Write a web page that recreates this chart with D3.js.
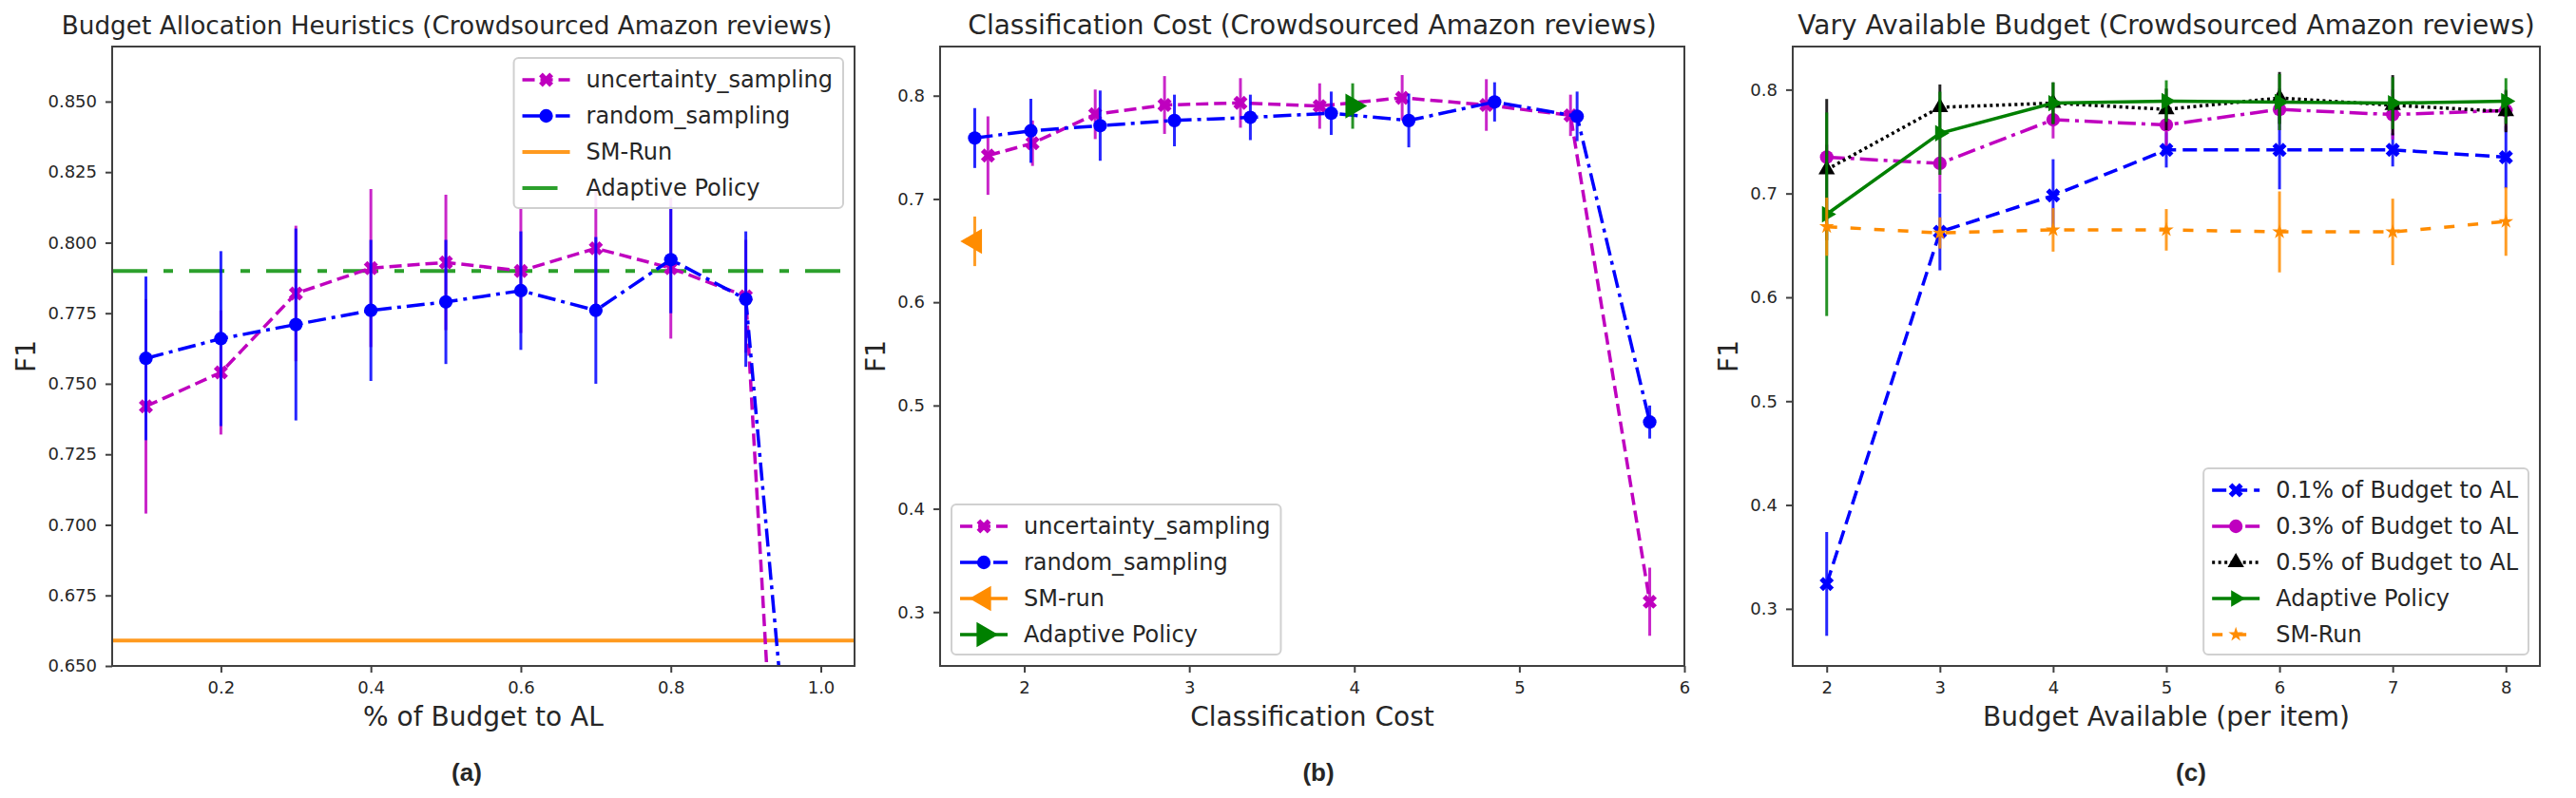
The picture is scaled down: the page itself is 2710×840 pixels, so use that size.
<!DOCTYPE html>
<html>
<head>
<meta charset="utf-8">
<script src="https://cdn.jsdelivr.net/npm/d3@7/dist/d3.min.js"></script>
<style>
  body { margin: 0; background: #fff; }
  text { font-family: "DejaVu Sans", sans-serif; fill: #262626; }
</style>
</head>
<body>
<script>
// ---- data ----
// (a) share of budget given to active learning, (b) same runs plotted against cost
var alShare = [0.1, 0.2, 0.3, 0.4, 0.5, 0.6, 0.7, 0.8, 0.9, 1.0];
var uncertaintyF1 = [0.742, 0.754, 0.782, 0.791, 0.793, 0.790, 0.798, 0.791, 0.781, 0.310];
var uncertaintyErr = [0.038, 0.022, 0.024, 0.028, 0.024, 0.022, 0.022, 0.025, 0.020, 0.033];
var randomF1 = [0.759, 0.766, 0.771, 0.776, 0.779, 0.783, 0.776, 0.794, 0.780, 0.484];
var randomErr = [0.029, 0.031, 0.034, 0.025, 0.022, 0.021, 0.026, 0.019, 0.024, 0.016];
var smRunF1 = 0.659, smRunErr = 0.024;
var adaptiveF1 = 0.790, adaptiveErr = 0.022;

var uncertaintyCost = [1.78, 2.05, 2.43, 2.85, 3.31, 3.79, 4.29, 4.80, 5.31, 5.79];
var randomCost = [1.70, 2.04, 2.46, 2.91, 3.37, 3.86, 4.33, 4.85, 5.35, 5.79];
var smRunCost = 1.70;
var adaptiveCost = 3.99;

// (c) budget available per item
var budgets = [2, 3, 4, 5, 6, 7, 8];
var al01F1 = [0.324, 0.663, 0.698, 0.742, 0.742, 0.742, 0.735];
var al01Err = [0.050, 0.037, 0.035, 0.017, 0.038, 0.016, 0.030];
var al03F1 = [0.735, 0.729, 0.771, 0.766, 0.781, 0.776, 0.780];
var al03Err = [0.012, 0.028, 0.018, 0.020, 0.020, 0.024, 0.020];
var al05F1 = [0.723, 0.783, 0.787, 0.781, 0.792, 0.785, 0.779];
var al05Err = [0.068, 0.022, 0.020, 0.020, 0.025, 0.029, 0.020];
var adaptiveBudgetF1 = [0.680, 0.758, 0.787, 0.789, 0.788, 0.787, 0.789];
var adaptiveBudgetErr = [0.098, 0.040, 0.020, 0.020, 0.027, 0.025, 0.022];
var smRunBudgetF1 = [0.668, 0.662, 0.665, 0.665, 0.663, 0.663, 0.673];
var smRunBudgetErr = [0.028, 0.015, 0.021, 0.020, 0.039, 0.032, 0.033];

// ticks
var ticksAx = [0.2, 0.4, 0.6, 0.8, 1.0];
var ticksAy = [0.650, 0.675, 0.700, 0.725, 0.750, 0.775, 0.800, 0.825, 0.850];
var ticksBx = [2, 3, 4, 5, 6];
var ticksCx = [2, 3, 4, 5, 6, 7, 8];
var ticksF1 = [0.3, 0.4, 0.5, 0.6, 0.7, 0.8];

// ---- page ----
var W = 2710, H = 840;
var top_ = 49, bottom = 701;
var svg = d3.select("body").append("svg")
  .attr("width", W)
  .attr("height", H);

var panels = [
  {left: 118, right: 899, xd: [0.055, 1.045], yd: [0.65, 0.8695],
   xt: ticksAx, xf: d3.format(".1f"), yt: ticksAy, yf: d3.format(".3f"),
   title: "Budget Allocation Heuristics (Crowdsourced Amazon reviews)",
   titleX: 470, titleSize: 26.3,
   xlabel: "% of Budget to AL", cap: "(a)", capX: 491},
  {left: 989, right: 1772, xd: [1.49, 6.0], yd: [0.2478, 0.8476],
   xt: ticksBx, xf: d3.format("d"), yt: ticksF1, yf: d3.format(".1f"),
   title: "Classification Cost (Crowdsourced Amazon reviews)",
   xlabel: "Classification Cost", cap: "(b)", capX: 1387},
  {left: 1886, right: 2672, xd: [1.7, 8.3], yd: [0.245, 0.8415],
   xt: ticksCx, xf: d3.format("d"), yt: ticksF1, yf: d3.format(".1f"),
   title: "Vary Available Budget (Crowdsourced Amazon reviews)",
   xlabel: "Budget Available (per item)", cap: "(c)", capX: 2305}
];

function symbolPath(m, size) {
  var types = {o: d3.symbolCircle, X: d3.symbolCross, "^": d3.symbolTriangle,
               "<": d3.symbolTriangle, ">": d3.symbolTriangle, "*": d3.symbolStar};
  return d3.symbol().type(types[m]).size(size)();
}
function symbolRot(m) {
  return m == "X" ? 45 : m == "<" ? -90 : m == ">" ? 90 : 0;
}

function setupPanel(p, i) {
  var x = d3.scaleLinear().domain(p.xd).range([p.left, p.right]);
  var y = d3.scaleLinear().domain(p.yd).range([bottom, top_]);
  var g = svg.append("g");

  svg.append("clipPath").attr("id", "clip" + i)
    .append("rect")
    .attr("x", p.left).attr("y", top_)
    .attr("width", p.right - p.left).attr("height", bottom - top_);

  var xa = g.append("g")
    .attr("transform", "translate(0," + bottom + ")")
    .call(d3.axisBottom(x).tickValues(p.xt).tickFormat(p.xf)
      .tickSize(7).tickSizeOuter(0).tickPadding(9));
  var ya = g.append("g")
    .attr("transform", "translate(" + p.left + ",0)")
    .call(d3.axisLeft(y).tickValues(p.yt).tickFormat(p.yf)
      .tickSize(7).tickSizeOuter(0).tickPadding(9));
  [xa, ya].forEach(function(a) {
    a.select(".domain").remove();
    a.selectAll("line").attr("stroke", "#404040").attr("stroke-width", 2);
    a.selectAll("text").style("font-size", "18px")
      .style("font-family", "DejaVu Sans").attr("fill", "#262626");
  });

  // F1 label sits just left of the tick labels
  var yb = ya.node().getBBox();
  var lx = p.left + yb.x - 13, ly = (top_ + bottom) / 2;
  g.append("text")
    .attr("x", lx).attr("y", ly)
    .attr("transform", "rotate(-90," + lx + "," + ly + ")")
    .attr("text-anchor", "middle")
    .style("font-size", "28px")
    .text("F1");

  g.append("text")
    .attr("x", (p.left + p.right) / 2).attr("y", 764)
    .attr("text-anchor", "middle")
    .style("font-size", "28px")
    .text(p.xlabel);

  g.append("text")
    .attr("x", p.titleX || (p.left + p.right) / 2).attr("y", 36)
    .attr("text-anchor", "middle")
    .style("font-size", (p.titleSize || 28) + "px")
    .text(p.title);

  g.append("text")
    .attr("x", p.capX).attr("y", 822)
    .attr("text-anchor", "middle")
    .style("font-family", "Liberation Sans, Arial, sans-serif")
    .style("font-weight", "bold")
    .style("font-size", "26px")
    .attr("fill", "#000")
    .text(p.cap);

  var plot = svg.append("g").attr("clip-path", "url(#clip" + i + ")");
  return {x: x, y: y, plot: plot, p: p};
}

function hline(P, v, st) {
  P.plot.append("line")
    .attr("x1", P.p.left).attr("x2", P.p.right)
    .attr("y1", P.y(v)).attr("y2", P.y(v))
    .attr("stroke", st.color)
    .attr("stroke-width", st.lw)
    .attr("stroke-dasharray", st.dash || null);
}

function series(P, xs, ys, errs, st) {
  var pts = xs.map(function(d, i) { return [d, ys[i], errs[i]]; });
  var g = P.plot.append("g");
  g.selectAll(".err").data(pts).enter().append("line")
    .attr("x1", function(d) { return P.x(d[0]); })
    .attr("x2", function(d) { return P.x(d[0]); })
    .attr("y1", function(d) { return P.y(d[1] - d[2]); })
    .attr("y2", function(d) { return P.y(d[1] + d[2]); })
    .attr("stroke", st.color)
    .attr("stroke-opacity", 0.85)
    .attr("stroke-width", 3);
  if (pts.length > 1) {
    g.append("path")
      .attr("d", d3.line().x(function(d) { return P.x(d[0]); })
                          .y(function(d) { return P.y(d[1]); })(pts))
      .attr("fill", "none")
      .attr("stroke", st.color)
      .attr("stroke-width", st.lw)
      .attr("stroke-dasharray", st.dash || null);
  }
  g.selectAll(".mk").data(pts).enter().append("path")
    .attr("d", symbolPath(st.m, st.ms))
    .attr("transform", function(d) {
      return "translate(" + P.x(d[0]) + "," + P.y(d[1]) + ") rotate(" + symbolRot(st.m) + ")";
    })
    .attr("fill", st.color);
}

function legend(P, items, loc) {
  var fs = 24, pad = 9, hl = 50, gap = 17, row = 38;
  var g = svg.append("g");
  var box = g.append("rect");
  var widths = [];
  var rows = g.selectAll(".row").data(items).enter().append("g");
  rows.append("text")
    .attr("x", pad + hl + gap)
    .attr("y", function(d, i) { return pad + 12 + i * row; })
    .attr("dy", "0.35em")
    .style("font-size", fs + "px")
    .text(function(d) { return d.label; })
    .each(function() { widths.push(this.getComputedTextLength()); });
  rows.append("line")
    .attr("x1", pad).attr("x2", pad + hl)
    .attr("y1", function(d, i) { return pad + 12 + i * row; })
    .attr("y2", function(d, i) { return pad + 12 + i * row; })
    .attr("stroke", function(d) { return d.st.color; })
    .attr("stroke-width", function(d) { return d.st.lw; })
    .attr("stroke-dasharray", function(d) { return d.st.dash || null; });
  rows.filter(function(d) { return d.st.m; }).append("path")
    .attr("d", function(d) { return symbolPath(d.st.m, d.st.ms); })
    .attr("transform", function(d) {
      var k = items.indexOf(d);
      return "translate(" + (pad + hl / 2) + "," + (pad + 12 + k * row) + ") rotate(" + symbolRot(d.st.m) + ")";
    })
    .attr("fill", function(d) { return d.st.color; });

  var bw = pad + hl + gap + d3.max(widths) + pad + 2;
  var bh = pad * 2 + 24 + (items.length - 1) * row + 2;
  box.attr("x", 0).attr("y", -2).attr("width", bw).attr("height", bh)
    .attr("rx", 5)
    .attr("fill", "#fff").attr("fill-opacity", 0.9)
    .attr("stroke", "#d0d0d0").attr("stroke-width", 2);

  var lx = loc.indexOf("right") >= 0 ? P.p.right - 12 - bw : P.p.left + 12;
  var ly = loc.indexOf("upper") >= 0 ? top_ + 14 : bottom - 12 - bh + 2;
  g.attr("transform", "translate(" + lx + "," + ly + ")");
}

// ---- styles ----
var sUnc = {color: "#bf00bf", lw: 3.5, dash: "13,6", m: "X", ms: 140};
var sRand = {color: "#0000ff", lw: 3.5, dash: "19,6,4,6", m: "o", ms: 160};
var sSmLine = {color: "#ff9a1f", lw: 4};
var sAdLine = {color: "#2ca02c", lw: 4, dash: "37,17,10,17"};
var sSmPt = {color: "#ff8c00", lw: 3.5, m: "<", ms: 300};
var sAdPt = {color: "#008000", lw: 3.5, m: ">", ms: 300};

var s01 = {color: "#0000ff", lw: 3.5, dash: "15,7", m: "X", ms: 140};
var s03 = {color: "#bf00bf", lw: 3.5, dash: "19,6,4,6", m: "o", ms: 160};
var s05 = {color: "#000000", lw: 3.5, dash: "3,3.5", m: "^", ms: 130};
var sAdB = {color: "#008000", lw: 3.5, m: ">", ms: 130};
var sSmB = {color: "#ff8c00", lw: 3.5, dash: "11,14", m: "*", ms: 75};

// ---- (a) ----
var A = setupPanel(panels[0], 0);
hline(A, smRunF1, sSmLine);
hline(A, adaptiveF1, sAdLine);
series(A, alShare, uncertaintyF1, uncertaintyErr, sUnc);
series(A, alShare, randomF1, randomErr, sRand);

// ---- (b) ----
var B = setupPanel(panels[1], 1);
series(B, uncertaintyCost, uncertaintyF1, uncertaintyErr, sUnc);
series(B, randomCost, randomF1, randomErr, sRand);
series(B, [smRunCost], [smRunF1], [smRunErr], sSmPt);
series(B, [adaptiveCost], [adaptiveF1], [adaptiveErr], sAdPt);

// ---- (c) ----
var C = setupPanel(panels[2], 2);
series(C, budgets, al01F1, al01Err, s01);
series(C, budgets, al03F1, al03Err, s03);
series(C, budgets, al05F1, al05Err, s05);
series(C, budgets, adaptiveBudgetF1, adaptiveBudgetErr, sAdB);
series(C, budgets, smRunBudgetF1, smRunBudgetErr, sSmB);

// frames on top of the data
[A, B, C].forEach(function(P) {
  svg.append("rect")
    .attr("x", P.p.left).attr("y", top_)
    .attr("width", P.p.right - P.p.left).attr("height", bottom - top_)
    .attr("fill", "none").attr("stroke", "#404040").attr("stroke-width", 2);
});

legend(A, [
  {label: "uncertainty_sampling", st: sUnc},
  {label: "random_sampling", st: sRand},
  {label: "SM-Run", st: sSmLine},
  {label: "Adaptive Policy", st: sAdLine}
], "upper right");
legend(B, [
  {label: "uncertainty_sampling", st: sUnc},
  {label: "random_sampling", st: sRand},
  {label: "SM-run", st: sSmPt},
  {label: "Adaptive Policy", st: sAdPt}
], "lower left");
legend(C, [
  {label: "0.1% of Budget to AL", st: s01},
  {label: "0.3% of Budget to AL", st: s03},
  {label: "0.5% of Budget to AL", st: s05},
  {label: "Adaptive Policy", st: sAdB},
  {label: "SM-Run", st: sSmB}
], "lower right");
</script>
</body>
</html>
